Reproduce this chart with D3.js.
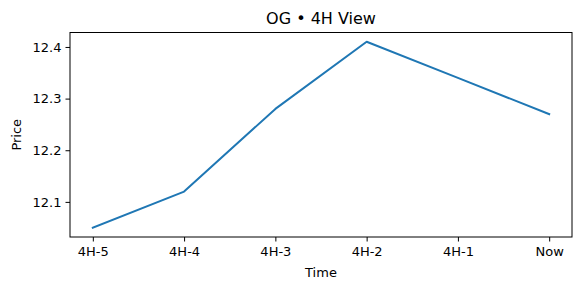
<!DOCTYPE html>
<html>
<head>
<meta charset="utf-8">
<script src="https://cdn.jsdelivr.net/npm/d3@7"></script>
<style>
  body { margin: 0; background: #fff; }
  text { font-family: "DejaVu Sans", sans-serif; fill: #000; }
</style>
</head>
<body>
<script>
'use strict';

// chart data
const labels = ["4H-5", "4H-4", "4H-3", "4H-2", "4H-1", "Now"];
const prices = [12.05, 12.12, 12.28, 12.41, 12.34, 12.27];
const yTicks = [12.1, 12.2, 12.3, 12.4];

const m = { width: 581, height: 290, left: 70, right: 572, top: 32.5, bottom: 237 };

const svg = d3.select('body')
  .append('svg')
  .attr('width', m.width)
  .attr('height', m.height);

// x: index scale with matplotlib-style 5% padding
const n = labels.length;
const xScale = d3.scaleLinear()
  .domain([-0.25, n - 1 + 0.25])
  .range([m.left, m.right]);

const yMin = d3.min(prices), yMax = d3.max(prices);
const pad = (yMax - yMin) * 0.05;
const yScale = d3.scaleLinear()
  .domain([yMin - pad, yMax + pad])
  .range([m.bottom, m.top]);

// axes
const xAxis = d3.axisBottom(xScale)
  .tickValues(d3.range(n))
  .tickFormat((i) => labels[i])
  .tickSize(4.5)
  .tickPadding(5);
const gx = svg.append('g')
  .attr('transform', 'translate(0,' + m.bottom + ')')
  .call(xAxis);

const yAxis = d3.axisLeft(yScale)
  .tickValues(yTicks)
  .tickFormat(d3.format('.1f'))
  .tickSize(4.5)
  .tickPadding(4);
const gy = svg.append('g')
  .attr('transform', 'translate(' + m.left + ',0)')
  .call(yAxis);

[gx, gy].forEach((g) => {
  g.select('.domain').remove();
  g.selectAll('.tick line').attr('stroke', '#000').attr('stroke-width', 1);
  g.selectAll('.tick text')
    .style('font-family', '"DejaVu Sans", sans-serif')
    .style('font-size', '13px')
    .attr('fill', '#000');
});

// frame
svg.append('rect')
  .attr('x', m.left)
  .attr('y', m.top)
  .attr('width', m.right - m.left)
  .attr('height', m.bottom - m.top)
  .attr('fill', 'none')
  .attr('stroke', '#000')
  .attr('stroke-width', 1);

// line
const line = d3.line()
  .x((d, i) => xScale(i))
  .y((d) => yScale(d));

svg.append('path')
  .datum(prices)
  .attr('d', line)
  .attr('fill', 'none')
  .attr('stroke', '#1f77b4')
  .attr('stroke-width', 2)
  .attr('stroke-linejoin', 'round')
  .attr('stroke-linecap', 'square');

// title and labels
svg.append('text')
  .attr('x', (m.left + m.right) / 2)
  .attr('y', 24)
  .attr('text-anchor', 'middle')
  .style('font-size', '16px')
  .text('OG \u2022 4H View');

svg.append('text')
  .attr('x', (m.left + m.right) / 2)
  .attr('y', 277)
  .attr('text-anchor', 'middle')
  .style('font-size', '13px')
  .text('Time');

svg.append('text')
  .attr('transform', 'translate(21,' + ((m.top + m.bottom) / 2) + ')rotate(-90)')
  .attr('text-anchor', 'middle')
  .style('font-size', '13px')
  .text('Price');
</script>
</body>
</html>
